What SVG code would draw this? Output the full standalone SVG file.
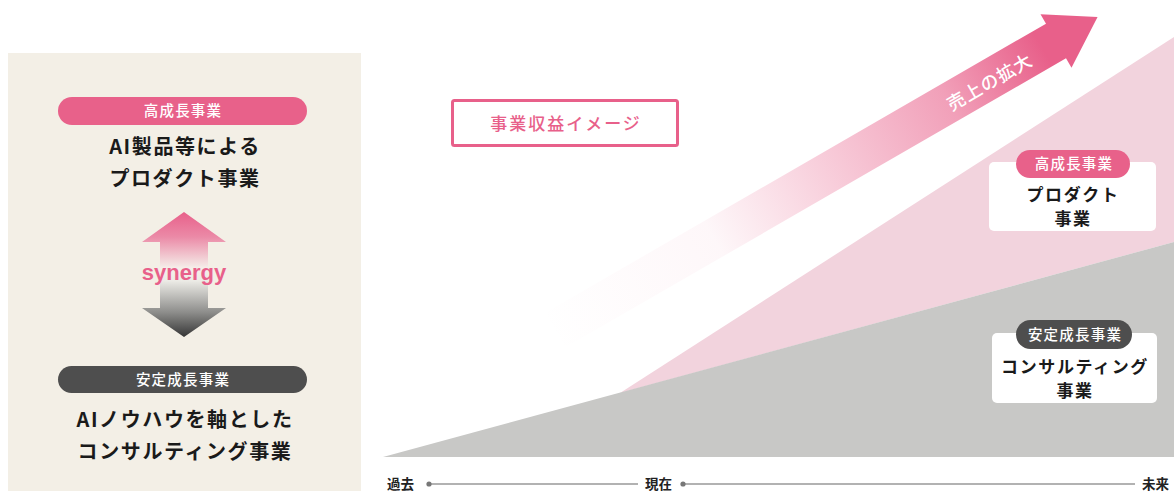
<svg xmlns="http://www.w3.org/2000/svg" width="1174" height="491" viewBox="0 0 1174 491">
<style>
.jp{font-family:"Noto Sans CJK JP","Noto Sans",sans-serif}
.pilltxt{font-size:14.5px;fill:#ffffff;font-weight:500;letter-spacing:1.2px;text-anchor:middle}
.big{font-size:20px;font-weight:700;fill:#1a1a1a;letter-spacing:1.6px;text-anchor:middle}
.mid{font-size:17px;font-weight:700;fill:#1a1a1a;letter-spacing:1.6px;text-anchor:middle}
.axis{font-size:13.5px;font-weight:700;fill:#222222}
.pink{fill:#e8618a}
.dark{fill:#4e4e4e}
.whitebox{fill:#ffffff}
</style>
<defs>
<linearGradient id="syn" x1="0" y1="212" x2="0" y2="337" gradientUnits="userSpaceOnUse">
<stop offset="0" stop-color="#e8608a"/>
<stop offset="0.2" stop-color="#eb8aa7"/>
<stop offset="0.45" stop-color="#f5efea"/>
<stop offset="0.55" stop-color="#ecebe6"/>
<stop offset="0.8" stop-color="#8e8e8c"/>
<stop offset="1" stop-color="#363636"/>
</linearGradient>
<linearGradient id="grow" x1="-585" y1="0" x2="48" y2="0" gradientUnits="userSpaceOnUse">
<stop offset="0" stop-color="#e8608a" stop-opacity="0"/>
<stop offset="0.3" stop-color="#e8608a" stop-opacity="0.05"/>
<stop offset="0.46" stop-color="#e8608a" stop-opacity="0.25"/>
<stop offset="0.73" stop-color="#e8608a" stop-opacity="0.6"/>
<stop offset="0.9" stop-color="#e8608a" stop-opacity="1"/>
<stop offset="1" stop-color="#e8608a" stop-opacity="1"/>
</linearGradient>
</defs>
<rect width="1174" height="491" fill="#ffffff"/>

<g id="left-panel">
<rect x="8" y="53" width="353" height="438" fill="#f3efe6"/>
</g>

<g id="high-growth">
<rect class="pink" x="58" y="97" width="249" height="28" rx="14"/>
<text class="jp pilltxt" x="183" y="116">高成長事業</text>
<text class="jp big" x="185" y="154">AI製品等による</text>
<text class="jp big" x="185" y="186">プロダクト事業</text>
</g>

<g id="stable-growth">
<rect class="dark" x="58" y="366" width="249" height="27" rx="13.5"/>
<text class="jp pilltxt" x="183" y="385">安定成長事業</text>
<text class="jp big" x="185" y="427">AIノウハウを軸とした</text>
<text class="jp big" x="185" y="459">コンサルティング事業</text>
</g>

<g id="connectors">
<polygon points="184,212 226,242 208,242 208,308 226,308 184,337 142,308 160,308 160,242 142,242" fill="url(#syn)"/>
<text x="184" y="280" font-family="'Liberation Sans',Arial,sans-serif" font-size="22" font-weight="700" fill="#e8608a" text-anchor="middle">synergy</text>
</g>

<g id="chart-areas">
<polygon points="620,393 1174,37 1174,242 620,393" fill="#f2d3dd"/>
<polygon points="383,457 1174,242 1174,457" fill="#c8c8c6"/>
</g>

<g id="title-box">
<rect x="452.5" y="100.5" width="225" height="45" rx="2" fill="#ffffff" stroke="#e8608a" stroke-width="3"/>
<text class="jp" x="566" y="129.5" font-size="17" font-weight="500" fill="#e8608a" letter-spacing="2" text-anchor="middle">事業収益イメージ</text>
</g>

<g id="sales-arrow" transform="translate(1056,41) rotate(-30)">
<polygon points="-585,-20 0,-20 0,-31 48,0 0,31 0,20 -585,20" fill="url(#grow)"/>
<text class="jp" x="-78" y="1" font-size="18" font-weight="500" fill="#ffffff" letter-spacing="1" text-anchor="middle" dominant-baseline="central">売上の拡大</text>
</g>

<g id="product-box">
<rect class="whitebox" x="989" y="162" width="167" height="69" rx="5"/>
<rect class="pink" x="1016" y="150" width="114" height="28" rx="14"/>
<text class="jp pilltxt" x="1074" y="169">高成長事業</text>
<text class="jp mid" x="1073" y="201">プロダクト</text>
<text class="jp mid" x="1073" y="225">事業</text>
</g>

<g id="consulting-box">
<rect class="whitebox" x="992" y="333" width="165" height="70" rx="5"/>
<rect class="dark" x="1016" y="320" width="116" height="29" rx="14.5"/>
<text class="jp pilltxt" x="1075" y="340">安定成長事業</text>
<text class="jp mid" x="1075" y="373">コンサルティング</text>
<text class="jp mid" x="1075" y="397">事業</text>
</g>

<g id="timeline">
<line x1="429" y1="484" x2="638" y2="484" stroke="#999999" stroke-width="1.3"/>
<line x1="683" y1="484" x2="1135" y2="484" stroke="#999999" stroke-width="1.3"/>
<circle cx="429" cy="484" r="2.6" fill="#777777"/>
<circle cx="683" cy="484" r="2.6" fill="#777777"/>
<text class="jp axis" x="387" y="489">過去</text>
<text class="jp axis" x="645" y="489">現在</text>
<text class="jp axis" x="1142" y="489">未来</text>
</g>
</svg>
